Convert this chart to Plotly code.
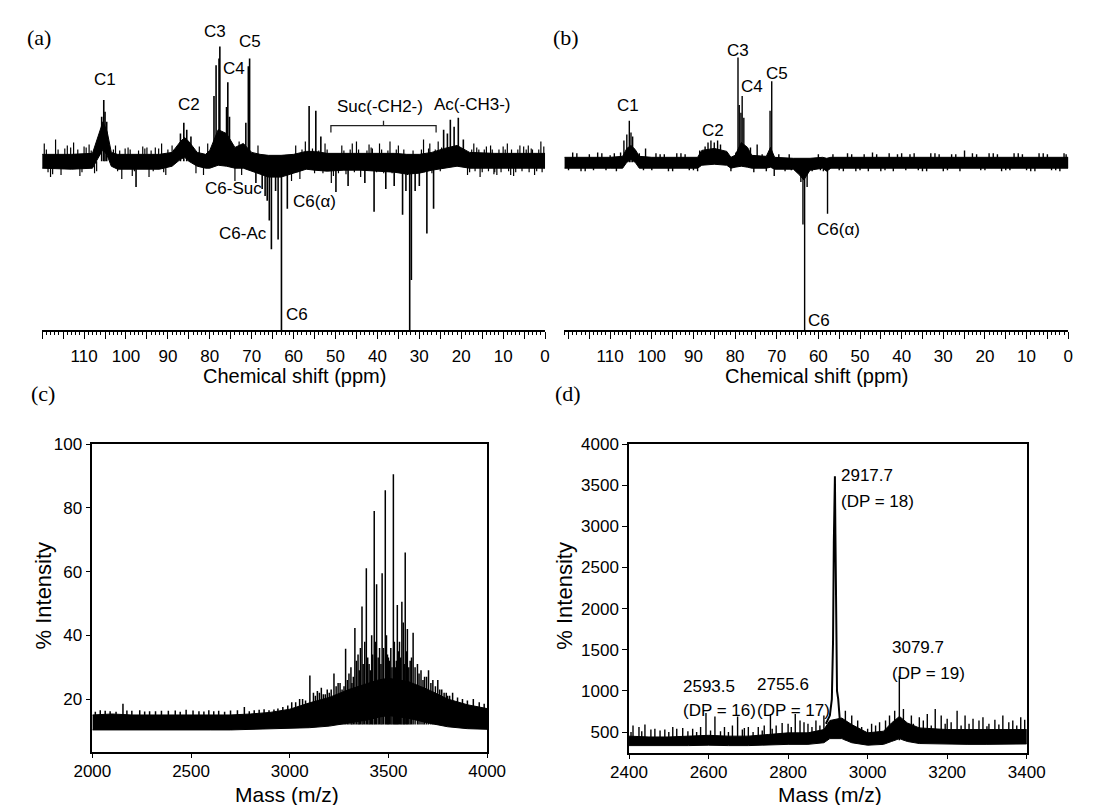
import plotly.graph_objects as go

W, H = 1093, 805

# ---------------- (a) 13C NMR (DEPT) of modified cellulose ----------------
a_env_ppm = [120, 113, 108, 106.5, 105.5, 104.5, 103.5, 102, 98, 92, 89, 87, 86, 85, 83, 81, 80, 78, 76, 74, 72, 70,
             68, 66, 63, 60, 57, 55, 52, 48, 44, 40, 36, 33, 30, 27, 24, 21, 18, 12, 6, 0]
a_env_up = [7, 7, 8, 26, 40, 30, 9, 7, 7, 7, 9, 20, 24, 20, 9, 7, 11, 32, 28, 14, 18, 9,
            7, 6, 6, 7, 10, 10, 8, 8, 8, 8, 8, 7, 7, 9, 13, 16, 9, 8, 8, 8]
a_env_lo = [-7, -8, -7, 4, 12, 6, -5, -8, -8, -8, -5, 2, 4, 0, -5, -7, -7, -4, -5, -7, -7, -10,
            -13, -16, -16, -12, -8, -9, -10, -9, -9, -10, -11, -13, -12, -9, -7, -5, -7, -7, -7, -7]
a_peak_ppm = [105.8, 105.3, 105.0, 104.6, 87, 86.2, 85.5, 84.5, 79, 78.5, 77.8, 77.6, 76, 75.7, 75.3, 71.4, 70.8,
              70.5, 67.5, 66.8, 66.3, 65.8, 65.3, 64.3, 63.7, 62.9, 61.5, 56.3, 54.7, 53.5, 49.9, 47, 43, 40.8,
              38, 36, 34, 33.2, 32.3, 31.9, 31, 30, 28.2, 26.6, 24.2, 23.3, 22.6, 21.7, 20.7, 19.5, 97.6, 69]
a_peak_int = [45, 62, 50, 40, 28, 39, 32, 25, 66, 97, 104, 116, 55, 80, 45, 39, 96,
              104, -28, -35, -40, -60, -89, -30, -79, -171, -48, 56, 51, 25, -31, -25, -22, -51,
              -28, -25, -54, -30, -171, -120, -30, -25, -73, -48, 32, 28, 42, 35, 44, 22, -26, -22]
a_noise_ppm = [119.5, 119, 118.6, 118, 117.5, 116.8, 116.2, 115.5, 114.6, 114, 113.2, 112.5, 111.5, 111, 110.5,
               110, 109.5, 108.8, 108.3, 107.5, 107, 103, 102.5, 102, 101.5, 101, 100.2, 99.5, 99, 98.5, 98, 97,
               96, 95.5, 95, 94.5, 94, 93.5, 93, 92.2, 91.5, 91, 90.5, 90, 89, 88.5, 83.3, 82.5, 81.5, 80.5,
               74, 73, 72.4, 68.5, 60.5, 59.5, 59, 58.5, 58, 57.2, 55.5, 55, 54, 53, 52.5, 52, 51, 50.5, 49.3,
               48.5, 48, 47.5, 46.5, 46, 45.5, 45, 44.5, 44, 42.5, 42, 41.5, 41.2, 40.2, 39.5, 39, 38.5, 37.5,
               37, 36.5, 35.5, 35, 34.5, 33.7, 32.8, 31.5, 29.5, 29, 28.8, 27.8, 27.5, 27, 26.2, 25.5, 25, 24.7,
               18.5, 18, 17.5, 17, 16.7, 16.3, 15.8, 15.5, 15, 14.5, 14, 13.5, 13, 12.6, 12.2, 12, 11.5, 11, 10.5,
               10, 9.5, 9, 8.7, 8.2, 8, 7.5, 7, 6.5, 6, 5.5, 5.1, 4.5, 4, 3.8, 3.3, 3, 2.5, 2, 1.5, 1, 0.7, 0.3]
a_noise_int = [18, 12, -11, -16, -13, 22, 12, -14, 13, 16, 14, 19, 12, -15, -11,
               15, 14, 17, 11, -12, -10, 12, 16, -10, 11, -18, 13, 14, 12, -15, -10, 11,
               15, 13, 14, -16, 11, -10, 14, 13, 18, -11, -14, 12, 16, 12, -12, 15, -14, 18,
               -20, 20, -14, 16, -20, 16, -11, -18, 12, 20, 13, -12, 11, -12, 18, 12, -22, -15, -12,
               16, 11, -13, 12, 18, -11, 20, 12, -16, 11, 17, 14, 13, -11, 18, 12, -12, 11,
               20, -12, 12, 16, -11, 12, -14, 11, 12, 22, -11, 13, 18, -12, 12, 20, -10, 14,
               -14, -11, 12, 18, -10, 14, 12, -16, -11, 12, 15, -10, 16, 12, -13, -11, -14, 12, -11,
               15, 12, 18, -10, -14, 12, -15, -11, 12, 16, -10, 15, 12, 16, -11, 13, 12, -14, -10, 12, 20, -11, 15]
suc_bracket = [51.1, 26.0]

# ---------------- (b) 13C NMR (DEPT) of cellulose ----------------
b_env_ppm = [121, 110, 107, 106, 105, 104, 103, 100, 89, 88, 85, 82, 81, 80, 78.5, 77, 76, 72.5, 71.5, 70.5,
             66, 64.5, 63.5, 62, 59, 58, 57, 50, 40, 30, 20, 10, 0]
b_env_up = [5, 5, 6, 14, 17, 13, 6, 5, 5, 12, 14, 11, 5, 7, 20, 15, 7, 6, 15, 5,
            4, 4, 4, 4, 5, 4, 5, 5, 5, 5, 5, 5, 5]
b_env_lo = [-6, -6, -6, 0, 3, 0, -6, -6, -6, -3, -2, -3, -6, -5, -4, -5, -6, -6, -5, -7,
            -7, -13, -18, -8, -6, -9, -6, -6, -6, -6, -6, -6, -6]
b_stick_ppm = [119, 117, 115, 113, 111, 109, 107.5, 106.7, 106, 105.4, 105, 104.6, 104, 103, 101.5, 100, 98, 96,
               94, 92, 90, 88.5, 87.2, 86.5, 85.8, 85, 84.2, 83.5, 82.5, 81, 79.8, 79.3, 79, 78.6, 78.3, 77.9,
               77.2, 76.3, 75.5, 74.7, 73.5, 72.5, 71.6, 71.2, 70.6, 69.5, 68, 66.5, 65, 64.2, 63.7, 63.3, 62.7,
               61.5, 60, 58.8, 57.8, 56.5, 55, 53, 51, 49, 47, 45, 43, 41, 39, 37, 35, 33, 31, 29, 27, 24.9, 23,
               21, 19, 17, 15, 13, 11, 9, 7, 5, 3, 1,
               120, 118, 116, 114, 112, 110, 108.5, 102, 99, 97, 95, 93, 91, 89, 67, 59.5, 54, 52, 50, 48, 46,
               44, 42, 40, 38, 36, 34, 32, 30, 28, 26, 22, 20, 18, 16, 14, 12, 10, 8, 6, 4, 2, 0.5]
b_stick_int = [10, -9, 8, 10, -8, 9, 10, 22, 28, 42, 30, 26, 12, 9, 14, -8, 8, -9,
               9, 8, -8, 12, 16, 20, 22, 20, 22, 18, 10, -9, 10, 106, 58, 50, 67, 45,
               12, 15, -10, 18, 8, -9, 52, 82, -14, 8, -9, -8, -10, -20, -63, -170, -25,
               -9, 8, -9, -52, 8, -8, 9, -9, 8, 10, -9, 9, 8, -8, 9, -9, 9, 8, -8, 8, 12, 9,
               -8, 9, 8, -8, 9, 8, -9, 9, 8, -8, 9,
               -8, 9, -9, -8, 9, 7, -9, -8, 9, 8, -9, 9, -8, -9, 8, -8, -9, 8, -8, -9, 8,
               -8, -9, 9, 8, -8, -9, 9, -9, 8, -9, 8, -8, 9, -9, -8, 9, -8, -9, 9, -8, -9, 8]

nmr_ticks = list(range(0, 121, 5))
nmr_ticktext = [str(v) if (v % 10 == 0 and v < 120) else "" for v in nmr_ticks]

# ---------------- (c) MALDI-TOF, % intensity ----------------
c_env_mass = [2000, 2100, 2200, 2300, 2400, 2500, 2600, 2700, 2800, 2900, 3000, 3100, 3200, 3300, 3400, 3450,
              3500, 3550, 3600, 3700, 3800, 3900, 4000]
c_env_up = [15.0, 15.3, 15.0, 15.0, 15.0, 15.0, 15.0, 15.0, 15.3, 15.8, 16.8, 18.8, 20.5, 23, 25, 26,
            26.5, 26, 25.5, 23, 20, 18.2, 17.0]
c_env_lo = [10.3, 10.3, 10.3, 10.3, 10.3, 10.3, 10.3, 10.3, 10.5, 10.5, 10.8, 11, 11.5, 12.5, 13.5, 14.3,
            14.8, 14.5, 14, 12.5, 11.3, 10.7, 10.5]
c_peak_mass = [2040, 2090, 2155, 2200, 2240, 2290, 2350, 2420, 2475, 2540, 2590, 2640, 2700, 2770, 2820, 2870,
               2920, 2965, 2990, 3010, 3030, 3050, 3065, 3080, 3102, 3120, 3140, 3160, 3180, 3200, 3224, 3245,
               3265, 3283, 3300, 3315, 3330, 3346, 3366, 3380, 3388, 3402, 3415, 3428, 3440, 3455, 3468, 3484,
               3495, 3505, 3525, 3535, 3545, 3556, 3568, 3585, 3596, 3610, 3625, 3647, 3665, 3683, 3703, 3725,
               3750, 3770, 3793, 3810, 3825, 3850, 3875, 3900, 3930, 3960, 3985,
               3310, 3322, 3338, 3352, 3358, 3372, 3395, 3408, 3420, 3434, 3448, 3462, 3475, 3490, 3500, 3512,
               3518, 3530, 3540, 3550, 3562, 3575, 3580, 3592, 3603, 3617, 3635, 3655, 3675, 3693, 3715, 3738,
               3760, 3782, 3800, 3130, 3150, 3170, 3190, 3210, 3235, 3255, 3275, 3292,
               2015, 2065, 2120, 2175, 2265, 2320, 2385, 2445, 2510, 2565, 2615, 2670, 2735, 2795, 2845, 2895,
               2940]
c_peak_int = [16.5, 16.2, 18.5, 16.3, 16.5, 16.2, 16.3, 16.4, 16.6, 16.2, 16.5, 16.3, 16.4, 17.5, 16.5, 16.8,
              16.7, 17.5, 18, 19, 19, 20, 20, 19.5, 27.4, 22, 22.5, 23.5, 21.5, 22, 28, 25,
              23, 35.8, 28, 25, 42.3, 34, 49, 38, 61, 31, 40, 79, 56, 36, 59.5, 85.5,
              34, 32, 90.5, 30, 49.5, 38, 50.5, 66, 42, 32, 40.8, 31, 29, 27, 29, 26,
              26, 23, 22, 21, 22, 20.5, 20, 19.5, 20, 19, 18.5,
              30, 27, 32, 29, 36, 31, 33, 29, 34, 38, 33, 31, 36, 40, 33, 36,
              30, 38, 32, 35, 33, 44, 31, 35, 30, 33, 30, 28, 26, 27, 25, 24,
              23, 22, 21, 21, 22, 21.5, 23, 23, 24, 25, 24, 26,
              16, 16.3, 16, 16.4, 16.1, 16.2, 16.3, 16, 16.4, 16.1, 16.2, 16, 16.5, 16.2, 16.6, 16.5,
              17]

# ---------------- (d) MALDI-TOF, counts ----------------
d_env_mass = [2400, 2450, 2500, 2550, 2600, 2650, 2700, 2750, 2800, 2850, 2890, 2905, 2935, 2960, 3000, 3040,
              3060, 3080, 3100, 3130, 3200, 3250, 3300, 3350, 3400]
d_env_up = [450, 440, 440, 450, 460, 450, 450, 470, 490, 490, 530, 640, 670, 590, 490, 510,
            610, 690, 610, 550, 530, 530, 530, 530, 530]
d_env_lo = [335, 335, 335, 335, 340, 335, 335, 340, 350, 350, 370, 420, 420, 370, 340, 350,
            385, 420, 385, 360, 355, 350, 350, 350, 355]
d_main_mass = [2895, 2905, 2910, 2913, 2915, 2917.7, 2919, 2921, 2923, 2926, 2930, 2935]
d_main_int = [600, 700, 900, 1600, 2800, 3610, 2900, 1800, 1000, 900, 650, 550]
d_spike_mass = [2410, 2425, 2440, 2465, 2490, 2510, 2535, 2560, 2593.5, 2616, 2640, 2660, 2673, 2700, 2725,
                2755.6, 2770, 2800, 2818, 2830, 2850, 2870, 2890, 2944, 2960, 2975, 3010, 3030, 3055, 3068,
                3079.7, 3090, 3110, 3130, 3150, 3170, 3185, 3200, 3225, 3245, 3265, 3290, 3320, 3340, 3365,
                3385, 3395, 2455, 2520, 2580, 2690, 2740, 2785, 2840, 3020, 3045, 3140, 3210, 3280, 3305, 3355,
                2405, 2432, 2478, 2500, 2548, 2570, 2605, 2630, 2650, 2685, 2712, 2735, 2760, 2808, 2860, 2880,
                2985, 3000, 3115, 3160, 3195, 3235, 3255, 3300, 3330, 3375]
d_spike_int = [580, 560, 590, 540, 530, 560, 550, 540, 730, 690, 560, 580, 690, 560, 560,
               720, 580, 600, 720, 640, 600, 640, 700, 760, 700, 640, 600, 620, 700, 760,
               1180, 780, 700, 680, 720, 780, 700, 660, 760, 700, 660, 680, 650, 700, 640,
               680, 650, 530, 540, 560, 550, 580, 610, 620, 580, 640, 640, 620, 640, 600, 620,
               500, 510, 520, 500, 510, 500, 520, 510, 500, 530, 500, 520, 540, 560, 560, 580,
               560, 540, 600, 580, 600, 580, 600, 570, 590, 580]
d_labels = ["2593.5", "2755.6", "2917.7", "3079.7"]
d_dp = [16, 17, 18, 19]

FONT = "Arial, Liberation Sans, Helvetica, sans-serif"
SERIF = "Times New Roman, Liberation Serif, serif"


def xdom(l, r):
    return [l / W, r / W]


def ydom(top, bottom):
    return [1 - bottom / H, 1 - top / H]


def band(xs, up, lo, xa, ya):
    return go.Scatter(x=list(xs) + list(xs)[::-1], y=list(up) + list(lo)[::-1], fill="toself",
                      fillcolor="black", line=dict(color="black", width=1), mode="lines",
                      xaxis=xa, yaxis=ya, hoverinfo="skip", showlegend=False)


def sticks(pos, val, base, xa, ya, width=1.4):
    xs, ys = [], []
    for p, v in zip(pos, val):
        xs += [p, p, None]
        ys += [base, v, None]
    return go.Scatter(x=xs, y=ys, mode="lines", line=dict(color="black", width=width),
                      xaxis=xa, yaxis=ya, showlegend=False, hoverinfo="skip")


fig = go.Figure()
# (a)
fig.add_trace(band(a_env_ppm, a_env_up, a_env_lo, "x", "y"))
fig.add_trace(sticks(a_noise_ppm, a_noise_int, 0, "x", "y", 1.2))
fig.add_trace(sticks(a_peak_ppm, a_peak_int, 0, "x", "y", 1.6))
mid = (suc_bracket[0] + suc_bracket[1]) / 2
fig.add_trace(go.Scatter(x=[suc_bracket[0], suc_bracket[0], mid, mid, mid, suc_bracket[1], suc_bracket[1]],
                         y=[29, 36, 36, 41, 36, 36, 29], mode="lines", line=dict(color="#222", width=1.3),
                         xaxis="x", yaxis="y", showlegend=False, hoverinfo="skip"))
# (b)
fig.add_trace(band(b_env_ppm, b_env_up, b_env_lo, "x2", "y2"))
fig.add_trace(sticks(b_stick_ppm, b_stick_int, 0, "x2", "y2", 1.4))
# (c)
fig.add_trace(band(c_env_mass, c_env_up, c_env_lo, "x3", "y3"))
fig.add_trace(sticks(c_peak_mass, c_peak_int, 12, "x3", "y3", 1.5))
# (d)
fig.add_trace(band(d_env_mass, d_env_up, d_env_lo, "x4", "y4"))
fig.add_trace(sticks(d_spike_mass, d_spike_int, 400, "x4", "y4", 1.4))
fig.add_trace(go.Scatter(x=d_main_mass, y=d_main_int, mode="lines", line=dict(color="black", width=2),
                         xaxis="x4", yaxis="y4", showlegend=False, hoverinfo="skip"))

nmr_x = dict(range=[120, 0], showline=True, linecolor="black", linewidth=1.6, ticks="outside", ticklen=7,
             tickwidth=1, tickcolor="black", tickmode="array", tickvals=nmr_ticks, ticktext=nmr_ticktext,
             minor=dict(tickmode="linear", tick0=0, dtick=1, ticks="outside", ticklen=3, tickcolor="black",
                        tickwidth=1),
             showgrid=False, zeroline=False, tickfont=dict(family=FONT, size=17, color="black"),
             ticklabelstandoff=2)
ms_common = dict(showline=True, mirror=True, linecolor="black", linewidth=1.5, ticks="outside", ticklen=5,
                 tickcolor="black", showgrid=False, zeroline=False,
                 tickfont=dict(family=FONT, size=17, color="black"))

fig.update_layout(
    width=W, height=H, margin=dict(l=0, r=0, t=0, b=0),
    paper_bgcolor="white", plot_bgcolor="white", showlegend=False,
    xaxis=dict(domain=xdom(24, 545), anchor="y", **nmr_x),
    yaxis=dict(domain=ydom(19, 325), range=[-171, 135], visible=False, anchor="x"),
    xaxis2=dict(domain=xdom(565, 1087), anchor="y2", **{**nmr_x, "range": [121, 0]}),
    yaxis2=dict(domain=ydom(19, 325), range=[-170, 136], visible=False, anchor="x2"),
    xaxis3=dict(domain=xdom(76, 485), anchor="y3", range=[2000, 4000], tickmode="linear", tick0=2000,
                dtick=500, ticklabelstandoff=-2, **ms_common),
    yaxis3=dict(domain=ydom(440, 751), anchor="x3", range=[3.5, 100], tickmode="linear", tick0=0, dtick=20,
                **ms_common),
    xaxis4=dict(domain=xdom(632, 1044), anchor="y4", range=[2400, 3400], tickmode="linear", tick0=2400,
                dtick=200, ticklabelstandoff=-2, **ms_common),
    yaxis4=dict(domain=ydom(440, 752), anchor="x4", range=[250, 4000], tickmode="linear", tick0=0, dtick=500,
                **ms_common),
)


def ann_paper(text, x, y, size=17, family=FONT, angle=0):
    fig.add_annotation(text=text, x=x / W, y=1 - y / H, xref="paper", yref="paper", showarrow=False,
                       xanchor="center", yanchor="middle", textangle=angle,
                       font=dict(family=family, size=size, color="black"))


def ann_data(text, x, y, xa, ya, xanchor="center", size=17):
    fig.add_annotation(text=text, x=x, y=y, xref=xa, yref=ya, showarrow=False, xanchor=xanchor,
                       yanchor="middle", font=dict(family=FONT, size=size, color="black"))


# panel letters
ann_paper("(a)", 21, 29, 22, family=SERIF)
ann_paper("(b)", 567, 29, 22, family=SERIF)
ann_paper("(c)", 25, 389, 22, family=SERIF)
ann_paper("(d)", 569, 389, 22, family=SERIF)

# axis titles
ann_paper("Chemical shift (ppm)", 285, 371, 20)
ann_paper("Chemical shift (ppm)", 826, 371, 20)
ann_paper("Mass (m/z)", 278, 794, 21)
ann_paper("Mass (m/z)", 840, 794, 21)
ann_paper("% Intensity", 25, 593, 22, angle=-90)
ann_paper("% Intensity", 565, 593, 22, angle=-90)

# (a) peak labels
ann_data("C1", 104.9, 83, "x", "y")
ann_data("C2", 84.9, 57, "x", "y")
ann_data("C3", 78.8, 131, "x", "y")
ann_data("C4", 74.2, 94, "x", "y")
ann_data("C5", 70.3, 121, "x", "y")
ann_data("Suc(-CH2-)", 39.4, 55, "x", "y")
ann_data("Ac(-CH3-)", 17.3, 57, "x", "y")
ann_data("C6-Suc", 67.1, -28, "x", "y", xanchor="right")
ann_data("C6-Ac", 65.9, -73, "x", "y", xanchor="right")
ann_data("C6(α)", 60.7, -41, "x", "y", xanchor="left")
ann_data("C6", 62.3, -155, "x", "y", xanchor="left")

# (b) peak labels
ann_data("C1", 105.6, 57, "x2", "y2")
ann_data("C2", 85.4, 32, "x2", "y2")
ann_data("C3", 79.3, 113, "x2", "y2")
ann_data("C4", 75.9, 77, "x2", "y2")
ann_data("C5", 70.0, 90, "x2", "y2")
ann_data("C6(α)", 60.7, -68, "x2", "y2", xanchor="left")
ann_data("C6", 62.9, -160, "x2", "y2", xanchor="left")

# (d) peak labels
d_lab_pos = [(2531, 1055, 767), (2718, 1079, 767), (2929, 3615, 3303), (3055, 1524, 1212)]
for lab, dp, (lx, ly1, ly2) in zip(d_labels, d_dp, d_lab_pos):
    ann_data(lab, lx, ly1, "x4", "y4", xanchor="left")
    ann_data(f"(DP = {dp})", lx, ly2, "x4", "y4", xanchor="left")

fig.write_html("out.html", config={"displayModeBar": False},
               post_script="document.body.style.margin='0px';")
